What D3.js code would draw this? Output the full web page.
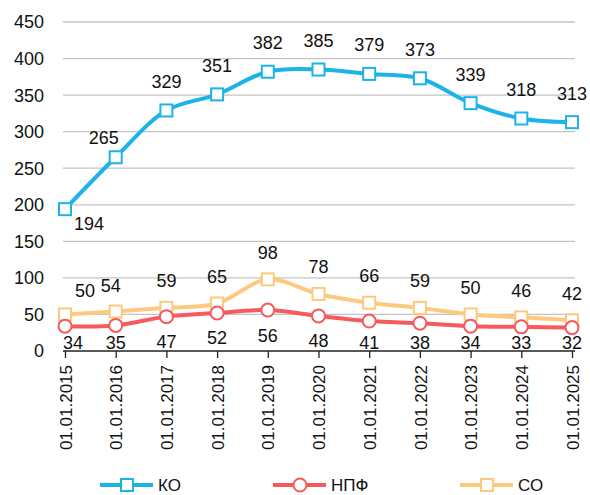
<!DOCTYPE html>
<html>
<head>
<meta charset="utf-8">
<script src="https://cdn.jsdelivr.net/npm/d3@7"></script>
<style>
  body { margin: 0; background: #fff; }
  text { font-family: "Liberation Sans", Arial, sans-serif; fill: #111; }
</style>
</head>
<body>
<div id="chart"></div>
<script>
const width = 590
const height = 495

const dates = ['01.01.2015', '01.01.2016', '01.01.2017', '01.01.2018', '01.01.2019', '01.01.2020',
  '01.01.2021', '01.01.2022', '01.01.2023', '01.01.2024', '01.01.2025'];
const koValues = [194, 265, 329, 351, 382, 385, 379, 373, 339, 318, 313];
const npfValues = [34, 35, 47, 52, 56, 48, 41, 38, 34, 33, 32];
const soValues = [50, 54, 59, 65, 98, 78, 66, 59, 50, 46, 42];
const yTicks = [0, 50, 100, 150, 200, 250, 300, 350, 400, 450];
const seriesNames = ['КО', 'НПФ', 'СО'];

const colors = {ko: '#1cb4e8', npf: '#f65a5c', so: '#fdc97f'};

const svg = d3.select('#chart').append('svg').attr('width', width).attr('height', height);

const x = d3.scalePoint().domain(dates).range([65, 572]);
const y = d3.scaleLinear().domain([0, 450]).range([351, 22]);

// grid
svg.append('g')
  .selectAll('line')
  .data(yTicks.filter(t => t > 0))
  .enter().append('line')
  .attr('x1', 63).attr('x2', 575)
  .attr('y1', d => y(d)).attr('y2', d => y(d))
  .attr('stroke', '#c4c4c4').attr('stroke-width', 1.3);

// y labels
svg.append('g')
  .selectAll('text')
  .data(yTicks)
  .enter().append('text')
  .attr('x', 44)
  .attr('y', d => y(d))
  .attr('dy', '0.36em')
  .attr('text-anchor', 'end')
  .style('font-size', '18px')
  .text(d => d);

// x axis
const xAxis = svg.append('g')
  .attr('transform', 'translate(0,' + y(0) + ')')
  .call(d3.axisBottom(x).tickSize(7).tickPadding(8));
xAxis.select('.domain').attr('stroke', '#222').attr('stroke-width', 1.3).attr('d', 'M63,0H575');
xAxis.selectAll('.tick line').attr('stroke', '#222').attr('stroke-width', 1.3);
xAxis.selectAll('.tick text')
  .attr('transform', 'rotate(-90)')
  .attr('text-anchor', 'end')
  .attr('x', -14)
  .attr('y', 0)
  .attr('dy', '0.36em')
  .style('font-size', '17px')
  .style('font-family', '"Liberation Sans", Arial, sans-serif')
  .attr('fill', '#111');

const line = d3.line()
  .x((d, i) => x(dates[i]))
  .y(d => y(d))
  .curve(d3.curveCatmullRom.alpha(0.5));

function drawSeries(values, color, shape) {
  svg.append('path')
    .datum(values)
    .attr('d', line)
    .attr('fill', 'none')
    .attr('stroke', color)
    .attr('stroke-width', 4);
  const g = svg.append('g');
  if (shape === 'square') {
    g.selectAll('rect').data(values).enter().append('rect')
      .attr('x', (d, i) => x(dates[i]) - 6)
      .attr('y', d => y(d) - 6)
      .attr('width', 12).attr('height', 12)
      .attr('fill', '#fff').attr('stroke', color).attr('stroke-width', 2);
  } else {
    g.selectAll('circle').data(values).enter().append('circle')
      .attr('cx', (d, i) => x(dates[i]))
      .attr('cy', d => y(d))
      .attr('r', 6.5)
      .attr('fill', '#fff').attr('stroke', color).attr('stroke-width', 2);
  }
}

drawSeries(soValues, colors.so, 'square');
drawSeries(npfValues, colors.npf, 'circle');
drawSeries(koValues, colors.ko, 'square');

// data labels
function labels(values, fn) {
  svg.append('g')
    .selectAll('text')
    .data(values)
    .enter().append('text')
    .attr('text-anchor', 'middle')
    .attr('dy', '0.36em')
    .style('font-size', '18px')
    .each(function(d, i) {
      const p = fn(d, i);
      d3.select(this).attr('x', p[0]).attr('y', p[1]);
    })
    .text(d => d);
}

labels(koValues, (d, i) => {
  const px = x(dates[i]), py = y(d);
  if (i === 0) return [px + 24, py + 14];
  if (i === 1) return [px - 12, py - 20];
  return [px, Math.max(38, py - 29)];
});
labels(soValues, (d, i) => {
  const px = x(dates[i]), py = y(d);
  if (i === 0) return [px + 20, py - 24];
  if (i === 1) return [px - 5, py - 26];
  return [px, py - 27];
});
labels(npfValues, (d, i) => {
  const px = x(dates[i]), py = y(d);
  return [px + (i === 0 ? 8 : 0), Math.min(py + 25, 343)];
});

// legend
const legendItems = [
  {name: seriesNames[0], color: colors.ko, shape: 'square', x: 100},
  {name: seriesNames[1], color: colors.npf, shape: 'circle', x: 273},
  {name: seriesNames[2], color: colors.so, shape: 'square', x: 460}
];
const ly = 485;
legendItems.forEach(item => {
  const g = svg.append('g');
  g.append('line')
    .attr('x1', item.x).attr('x2', item.x + 53)
    .attr('y1', ly).attr('y2', ly)
    .attr('stroke', item.color).attr('stroke-width', 4);
  if (item.shape === 'square') {
    g.append('rect')
      .attr('x', item.x + 21).attr('y', ly - 6)
      .attr('width', 12).attr('height', 12)
      .attr('fill', '#fff').attr('stroke', item.color).attr('stroke-width', 2);
  } else {
    g.append('circle')
      .attr('cx', item.x + 27).attr('cy', ly).attr('r', 6.5)
      .attr('fill', '#fff').attr('stroke', item.color).attr('stroke-width', 2);
  }
  g.append('text')
    .attr('x', item.x + 58).attr('y', ly)
    .attr('dy', '0.36em')
    .style('font-size', '17px')
    .text(item.name);
});
</script>
</body>
</html>
